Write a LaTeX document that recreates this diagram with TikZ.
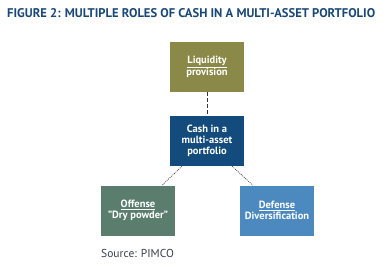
\documentclass[tikz,border=0pt]{standalone}
\usepackage{fontspec}
\setmainfont{PT Sans}
\usepackage{tikz}
\usetikzlibrary{positioning}
\definecolor{CashNavy}{RGB}{19,75,124}
\definecolor{CashOlive}{RGB}{139,137,72}
\definecolor{CashSage}{RGB}{90,125,110}
\definecolor{CashSteel}{RGB}{75,137,191}
\definecolor{CashTitle}{RGB}{26,72,118}
\definecolor{CashText}{RGB}{60,62,80}

\begin{document}
\begin{tikzpicture}[x=1pt, y=-1pt,
          rolebx/.style={rectangle, minimum width=74pt, minimum height=50pt,
                         inner sep=1pt, align=center, text=white,
                         font=\fontsize{10.5}{11}\selectfont\bfseries},
          lnk/.style={draw=black!80, line width=0.6pt}
        ]
        \useasboundingbox (0,0) rectangle (392,266);

        \node[anchor=base west, inner sep=0pt, text=CashTitle,
              font=\fontsize{12.6}{14}\selectfont\bfseries]
              (title) at (7,17) {FIGURE 2: MULTIPLE ROLES OF CASH IN A MULTI-ASSET PORTFOLIO};

        \node[rolebx, fill=CashOlive] (liq)  at (207, 67)    {\underline{Liquidity}\\provision};
        \node[rolebx, fill=CashNavy]  (cash) at (207, 141)   {Cash in a\\multi-asset\\portfolio};
        \node[rolebx, fill=CashSage]  (off)  at (138, 210.5) {\underline{Offense}\\"Dry powder"};
        \node[rolebx, fill=CashSteel] (def)  at (277, 210.5) {\underline{Defense}\\Diversification};

        \draw[lnk, dash pattern=on 4pt off 2pt] (liq) -- (cash);
        \draw[lnk, dash pattern=on 1pt off 1pt] ([xshift=-25pt]cash.south) -- ([xshift=24pt]off.north);
        \draw[lnk, dash pattern=on 1pt off 1pt] ([xshift=25pt]cash.south) -- ([xshift=-24pt]def.north);

        \node[anchor=base west, inner sep=0pt, text=CashText,
              font=\fontsize{11.5}{13}\selectfont]
              (src) at (101, 257) {Source: PIMCO};
      \end{tikzpicture}
\end{document}
